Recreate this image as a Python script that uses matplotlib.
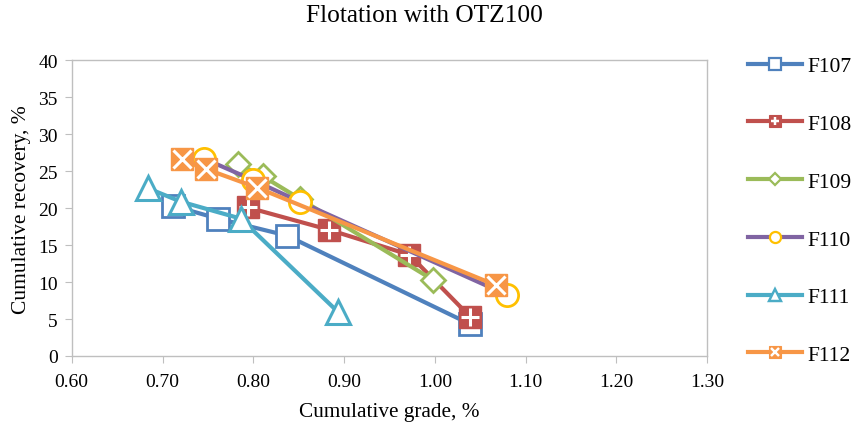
import matplotlib
matplotlib.use("Agg")
import matplotlib.pyplot as plt
from matplotlib.lines import Line2D
from matplotlib.legend_handler import HandlerTuple

plt.rcParams['font.family'] = ['Liberation Serif', 'DejaVu Serif']

# Cumulative grade (%) and cumulative recovery (%) for each flotation test
series_names = ["F107", "F108", "F109", "F110", "F111", "F112"]

f107_grade = [0.712, 0.761, 0.837, 1.039]
f107_recovery = [20.3, 18.6, 16.3, 4.3]

f108_grade = [0.794, 0.883, 0.972, 1.039]
f108_recovery = [20.1, 17.1, 13.7, 5.3]

f109_grade = [0.783, 0.811, 0.851, 0.998]
f109_recovery = [26.0, 24.3, 21.3, 10.3]

f110_grade = [0.746, 0.800, 0.851, 1.079]
f110_recovery = [26.7, 23.8, 20.9, 8.3]

f111_grade = [0.684, 0.720, 0.786, 0.893]
f111_recovery = [22.7, 20.9, 18.6, 6.0]

f112_grade = [0.722, 0.748, 0.804, 1.067]
f112_recovery = [26.6, 25.3, 22.8, 9.6]

x_ticks = [0.60, 0.70, 0.80, 0.90, 1.00, 1.10, 1.20, 1.30]
y_ticks = [0, 5, 10, 15, 20, 25, 30, 35, 40]

BLUE = "#4F81BD"
RED = "#C0504D"
GREEN = "#9BBB59"
PURPLE = "#8064A2"
YELLOW = "#FFC000"
CYAN = "#4BACC6"
ORANGE = "#F79646"
AXIS_GREY = "#BFBFBF"

fig = plt.figure(figsize=(8.54, 4.27), dpi=100)
ax = fig.add_axes([0.084, 0.164, 0.744, 0.692])

LW = 3.0
MS = 16

# (grade, recovery, line colour, list of marker layers)
styles = [
    (f107_grade, f107_recovery, BLUE,
     [dict(marker="s", ms=MS, mfc="white", mec=BLUE, mew=2.0)]),
    (f108_grade, f108_recovery, RED,
     [dict(marker="s", ms=MS, mfc=RED, mec=RED, mew=1.0),
      dict(marker="+", ms=MS * 0.8, mec="white", mew=2.2)]),
    (f109_grade, f109_recovery, GREEN,
     [dict(marker="D", ms=MS * 0.75, mfc="white", mec=GREEN, mew=2.0)]),
    (f110_grade, f110_recovery, PURPLE,
     [dict(marker="o", ms=MS, mfc="white", mec=YELLOW, mew=2.0)]),
    (f111_grade, f111_recovery, CYAN,
     [dict(marker="^", ms=MS * 1.05, mfc="white", mec=CYAN, mew=2.2)]),
    (f112_grade, f112_recovery, ORANGE,
     [dict(marker="s", ms=MS, mfc=ORANGE, mec=ORANGE, mew=1.0),
      dict(marker="x", ms=MS * 0.8, mec="white", mew=2.2)]),
]

handles = []
z = 2
for name, (gx, ry, color, layers) in zip(series_names, styles):
    ax.plot(gx, ry, color=color, lw=LW, zorder=z, solid_capstyle="round")
    for lay in layers:
        ax.plot(gx, ry, ls="none", zorder=z + 0.5, **lay)
    z += 1
    # smaller markers for the legend key
    leg_parts = [Line2D([], [], color=color, lw=LW)]
    for lay in layers:
        small = dict(lay)
        small["ms"] = lay["ms"] * 0.5
        small["mew"] = lay["mew"] * 0.8
        leg_parts.append(Line2D([], [], ls="none", **small))
    handles.append(tuple(leg_parts))

ax.set_xlim(0.60, 1.30)
ax.set_ylim(0, 40)
ax.set_xticks(x_ticks)
ax.set_xticklabels([f"{v:.2f}" for v in x_ticks])
ax.set_yticks(y_ticks)

for sp in ax.spines.values():
    sp.set_color(AXIS_GREY)
    sp.set_linewidth(1.0)
ax.tick_params(axis="both", direction="out", length=5, color=AXIS_GREY,
               labelsize=14, labelcolor="black", pad=5)
ax.tick_params(axis="x", pad=7)

ax.set_xlabel("Cumulative grade, %", fontsize=15.3, labelpad=9)
ax.set_ylabel("Cumulative recovery, %", fontsize=15.5, labelpad=5)
fig.text(0.497, 0.962, "Flotation with OTZ100", ha="center", va="center",
         fontsize=18.3)

fig.legend(handles, series_names, loc="upper left",
           bbox_to_anchor=(0.876, 0.866), frameon=False, fontsize=15.5,
           handler_map={tuple: HandlerTuple(ndivide=1, pad=0)},
           handlelength=2.5, handletextpad=0.25, labelspacing=1.75,
           borderpad=0, borderaxespad=0)

fig.savefig("out.png", dpi=100)
